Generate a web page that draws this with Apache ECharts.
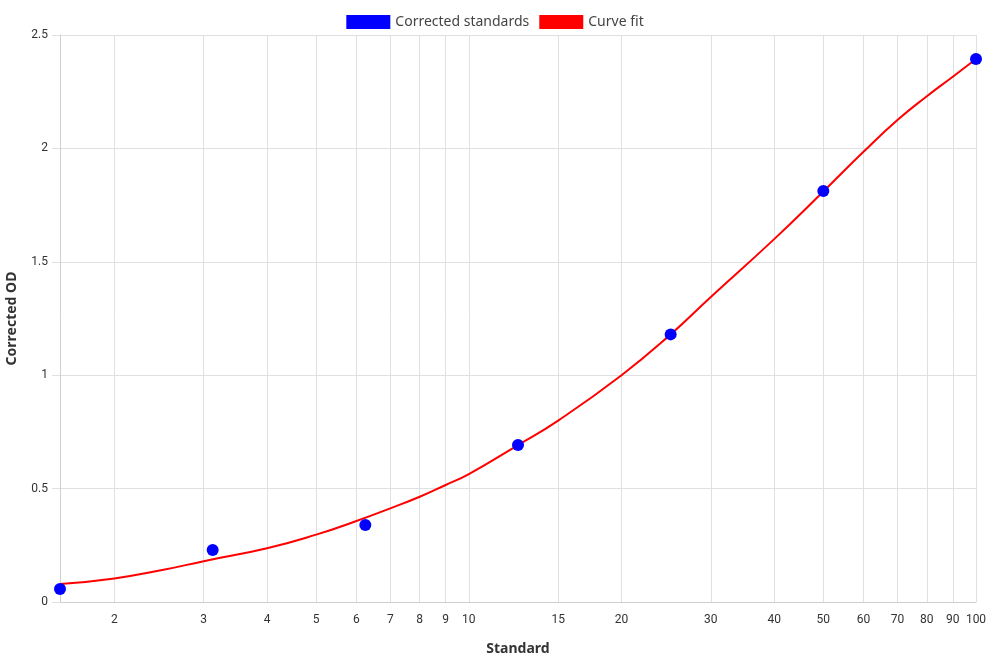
<!DOCTYPE html>
<html>
<head>
<meta charset="utf-8">
<script src="https://cdn.jsdelivr.net/npm/echarts@6/dist/echarts.min.js"></script>
<style>
  html, body { margin: 0; padding: 0; background: #fff; }
  #chart { width: 990px; height: 660px; }
</style>
</head>
<body>
<div id="chart"></div>
<script>
// standards (x) and their corrected OD
const standards = [1.5625, 3.125, 6.25, 12.5, 25, 50, 100];
const correctedOD = [0.057, 0.229, 0.34, 0.692, 1.18, 1.812, 2.394];

// curve fit
const fitX = [1.5625, 2, 2.5, 3, 4, 5, 6, 7, 8, 9, 10, 12.5, 15, 20, 25, 30, 40, 50, 60, 70, 80, 90, 100];
const fitY = [0.079, 0.104, 0.142, 0.18, 0.237, 0.297, 0.357, 0.413, 0.464, 0.516, 0.564, 0.692, 0.8, 1.0, 1.18, 1.345, 1.6, 1.81, 1.985, 2.125, 2.23, 2.316, 2.394];

// x tick labels
const xTicks = [2, 3, 4, 5, 6, 7, 8, 9, 10, 15, 20, 30, 40, 50, 60, 70, 80, 90, 100];
const yTicksMax = 2.5;

const chart = echarts.init(document.getElementById('chart'));

const labelFont = 'Roboto, "Liberation Sans", sans-serif';
const titleFont = '"Noto Sans", "Open Sans", sans-serif';

var option = {
  animation: false,
  color: ['#0000ff', '#ff0000'],
  legend: {
    top: 10,
    left: 'center',
    itemWidth: 44,
    itemHeight: 14,
    itemGap: 10,
    textStyle: { fontFamily: titleFont, fontSize: 14, color: '#444' },
    data: [
      { name: 'Corrected standards', icon: 'rect', itemStyle: { color: '#0000ff', opacity: 1 } },
      { name: 'Curve fit', icon: 'rect', itemStyle: { color: '#ff0000', opacity: 1 } }
    ]
  },
  grid: {
    left: 60,
    right: 14,
    top: 35,
    bottom: 58,
    containLabel: false,
    outerBoundsMode: 'none'
  },
  xAxis: {
    type: 'log',
    logBase: 10,
    min: standards[0],
    max: 100,
    name: 'Standard',
    nameLocation: 'middle',
    nameGap: 40,
    nameTextStyle: { fontFamily: titleFont, fontWeight: 'bold', fontSize: 14, color: '#333' },
    axisLine: { lineStyle: { color: '#cfcfcf', width: 1 } },
    axisTick: { show: false, customValues: xTicks },
    axisLabel: {
      customValues: xTicks,
      margin: 12,
      fontFamily: labelFont,
      fontSize: 12,
      color: '#333',
      formatter: function (v) { return String(Math.round(v)); }
    },
    splitLine: { show: true, lineStyle: { color: '#e0e0e0', width: 1 } }
  },
  yAxis: {
    type: 'value',
    min: 0,
    max: yTicksMax,
    interval: 0.5,
    name: 'Corrected OD',
    nameLocation: 'middle',
    nameGap: 41,
    nameTextStyle: { fontFamily: titleFont, fontWeight: 'bold', fontSize: 14, color: '#333' },
    axisLine: { show: true, lineStyle: { color: '#cfcfcf', width: 1 } },
    axisTick: { show: true, length: 8, lineStyle: { color: '#e0e0e0' } },
    axisLabel: { margin: 12, fontFamily: labelFont, fontSize: 12, color: '#333' },
    splitLine: { show: true, lineStyle: { color: '#e0e0e0', width: 1 } }
  },
  series: [
    {
      name: 'Corrected standards',
      type: 'scatter',
      symbolSize: 12,
      itemStyle: { color: '#0000ff', opacity: 1 },
      z: 3,
      data: standards.map((x, i) => [x, correctedOD[i]])
    },
    {
      name: 'Curve fit',
      type: 'line',
      smooth: 0.5,
      showSymbol: false,
      lineStyle: { color: '#ff0000', width: 2 },
      itemStyle: { color: '#ff0000', opacity: 1 },
      z: 2,
      data: fitX.map((x, i) => [x, fitY[i]])
    }
  ]
};

chart.setOption(option);
</script>
</body>
</html>
